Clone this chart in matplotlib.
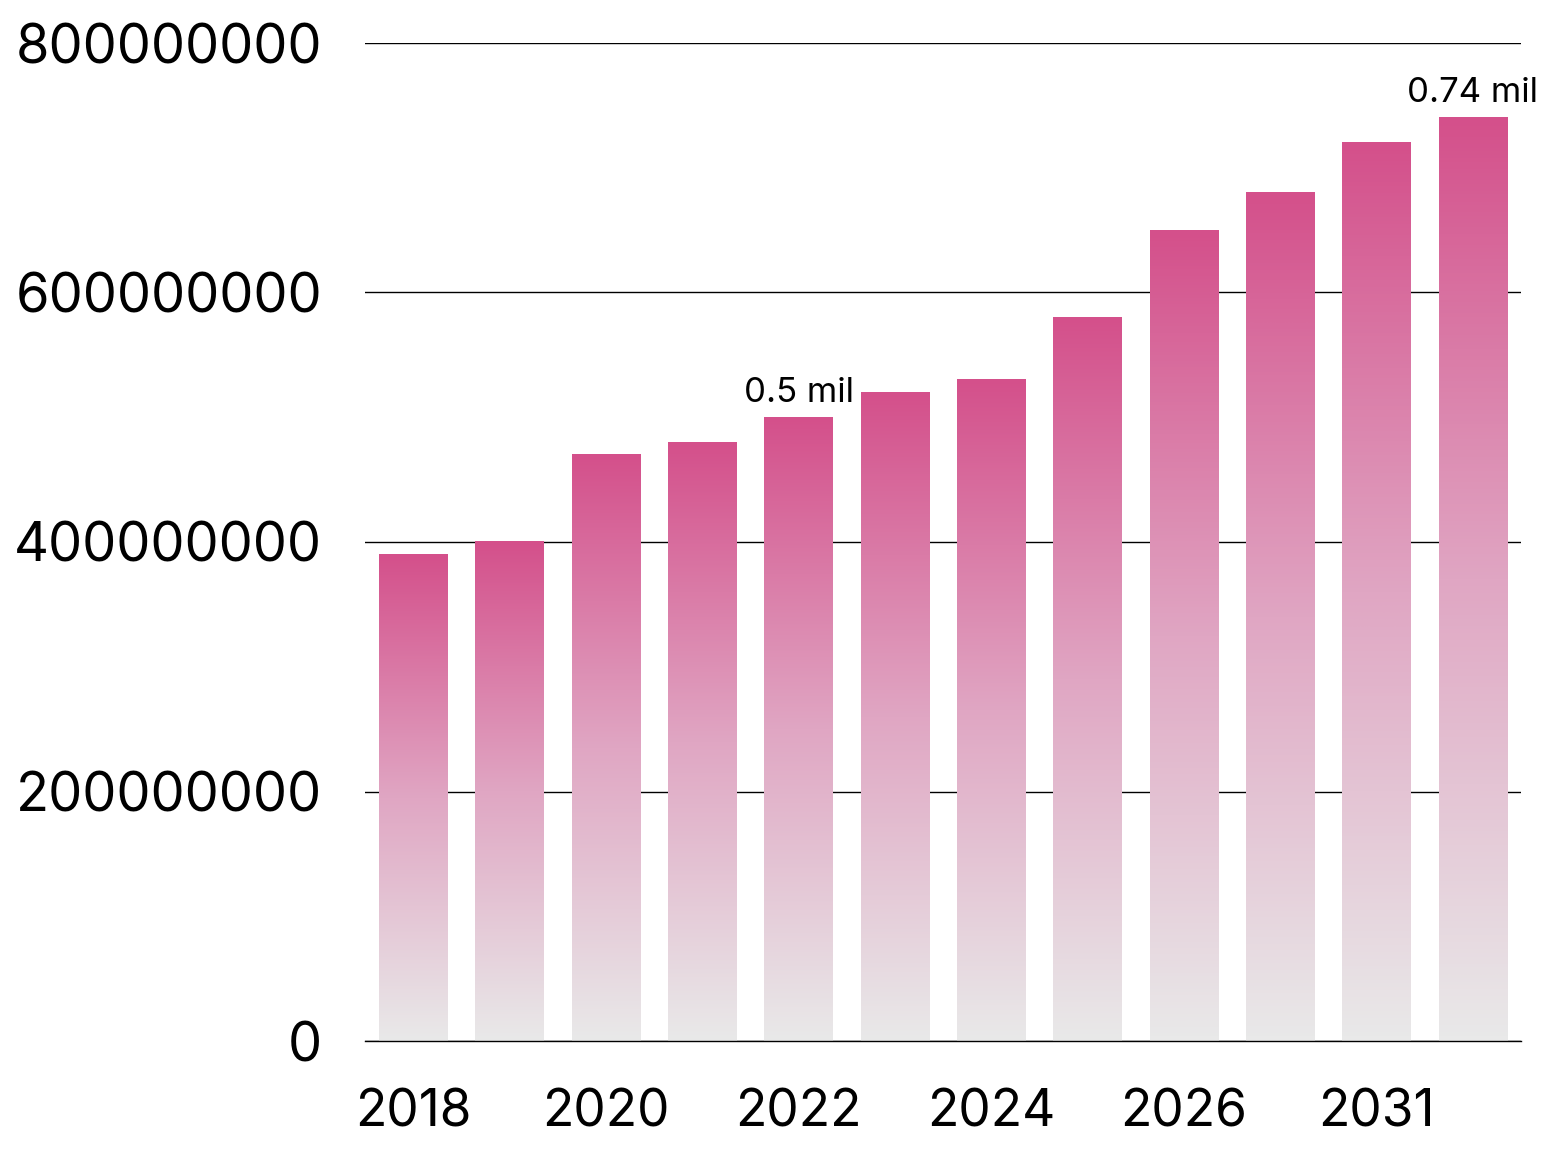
import matplotlib
matplotlib.use("Agg")
import matplotlib.pyplot as plt
import numpy as np
from matplotlib.colors import LinearSegmentedColormap

years = ["2018", "2019", "2020", "2021", "2022", "2023", "2024", "2025", "2026", "2027", "2031", "2032"]
values = [390e6, 400e6, 470e6, 480e6, 500e6, 520e6, 530e6, 580e6, 650e6, 680e6, 720e6, 740e6]
annotations = {4: "0.5 mil", 11: "0.74 mil"}
yticks = [0, 200000000, 400000000, 600000000, 800000000]

plt.rcParams['font.family'] = ['Inter', 'DejaVu Sans']

fig = plt.figure(figsize=(15.52, 11.5), dpi=100)
ax = fig.add_axes([365/1552, 1 - 1041/1150, (1521-365)/1552, (1041-43)/1150])

cmap = LinearSegmentedColormap.from_list("g", ["#e9e9e9", "#e0a6c3", "#d4508b"])
grad = np.linspace(0, 1, 256).reshape(-1, 1)

x = np.arange(len(years))
bars = ax.bar(x, values, width=0.71, color="none", zorder=2)
for b in bars:
    x0, w, h = b.get_x(), b.get_width(), b.get_height()
    ax.imshow(grad, extent=(x0, x0 + w, 0, h), origin="lower", cmap=cmap,
              aspect="auto", zorder=2, interpolation="bicubic")

for i, t in annotations.items():
    ax.text(x[i], values[i] + 7e6, t, ha="center", va="bottom", fontsize=25, color="black", zorder=3)

ax.set_xlim(-0.5, len(years) - 0.5)
ax.set_ylim(0, 800e6)
ax.set_yticks(yticks)
ax.set_yticklabels([str(v) for v in yticks], fontsize=39)
ax.set_xticks(x[::2])
ax.set_xticklabels(years[::2], fontsize=37)
ax.tick_params(axis="y", length=0, pad=31)
ax.tick_params(axis="x", length=0, pad=34)
ax.grid(axis="y", color="black", linewidth=1.0, zorder=1)
ax.set_axisbelow(True)
for s in ["top", "right", "left"]:
    ax.spines[s].set_visible(False)
ax.spines["bottom"].set_color("black")
ax.spines["bottom"].set_linewidth(1.0)

fig.savefig("out.png", dpi=100)
